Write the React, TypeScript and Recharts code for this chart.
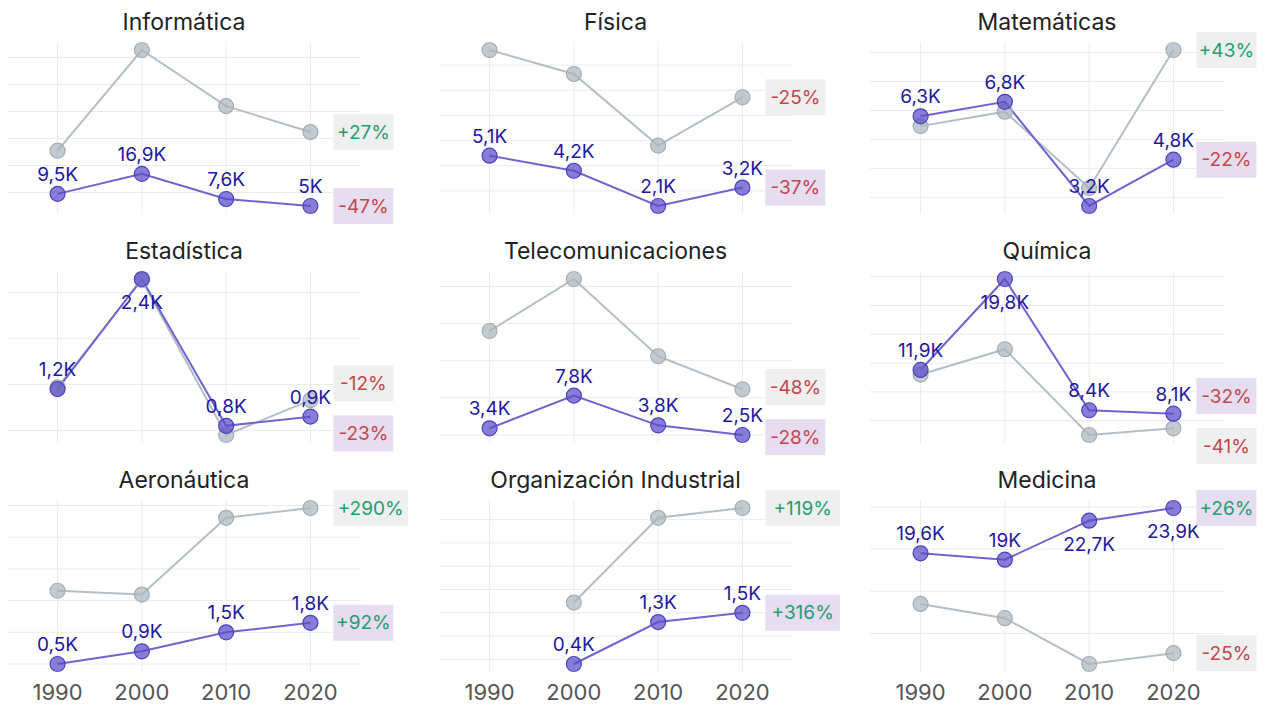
import React from 'react'
import { LineChart, Line, XAxis, YAxis, CartesianGrid, LabelList } from 'recharts'

const titles = [
  'Informática', 'Física', 'Matemáticas',
  'Estadística', 'Telecomunicaciones', 'Química',
  'Aeronáutica', 'Organización Industrial', 'Medicina',
]
const years = [1990, 2000, 2010, 2020]

// purple series, thousands (labelled)
const women: (number | null)[][] = [
  [9.5, 16.9, 7.6, 5.0],
  [5.1, 4.2, 2.1, 3.2],
  [6.3, 6.8, 3.2, 4.8],
  [1.2, 2.4, 0.8, 0.9],
  [3.4, 7.8, 3.8, 2.5],
  [11.9, 19.8, 8.4, 8.1],
  [0.5, 0.9, 1.5, 1.8],
  [null, 0.4, 1.3, 1.5],
  [19.6, 19.0, 22.7, 23.9],
]
// grey series, thousands (read off the picture, not labelled)
const men: (number | null)[][] = [
  [25.5, 62.8, 42.0, 32.4],
  [11.4, 9.97, 5.7, 8.58],
  [5.96, 6.46, 3.82, 8.59],
  [1.22, 2.39, 0.7, 1.08],
  [16.5, 23.5, 13.1, 8.66],
  [11.5, 13.7, 6.25, 6.83],
  [2.81, 2.69, 5.11, 5.42],
  [null, 1.72, 3.54, 3.75],
  [14.8, 13.45, 9.1, 10.13],
]
// change labels as printed in the boxes
const menChange = [27, -25, 43, -12, -48, -41, 290, 119, -25]
const womenChange = [-47, -37, -22, -23, -28, -32, 92, 316, 26]
// spacing of the light grid lines, thousands
const gridSteps = [10, 1.5, 0.5, 0.25, 2.5, 2.5, 0.5, 0.5, 2]

const PLOT_W = 354
const PLOT_H = 171.6
const TOP = 42.2
const LEFT = 7
const COL_X = [0, 431.5, 863]
const ROW_Y = [0, 228.8, 457.6]
const AXIS_H = 34

const GREY_LINE = '#b3bec5'
const GREY_DOT = '#aab5bd'
const PURPLE_LINE = '#7064d0'
const PURPLE_DOT = '#5a4bc8'
const LABEL_BLUE = '#2218a0'
const GREEN = '#1f9e72'
const RED = '#c4464b'

const fmtK = (v: number) => {
  const s = v.toFixed(1).replace('.', ',')
  return (s.endsWith(',0') ? s.slice(0, -2) : s) + 'K'
}
const fmtPct = (v: number) => (v > 0 ? '+' : '') + v + '%'

const gridTicks = (lo: number, hi: number, step: number) => {
  const out: number[] = []
  for (let t = Math.ceil(lo / step - 1e-9) * step; t <= hi + 1e-9; t += step) {
    out.push(+t.toFixed(4))
  }
  return out
}

// push the two end boxes apart when they would overlap
const spread = (a: number, b: number, sep = 50) => {
  if (Math.abs(a - b) >= sep) return [a, b]
  const mid = (a + b) / 2
  return a < b ? [mid - sep / 2, mid + sep / 2] : [mid + sep / 2, mid - sep / 2]
}

const PctBox = ({ x, y, value, fill }: { x: number; y: number; value: number; fill: string }) => {
  const text = fmtPct(value)
  const w = text.length * 14.5 + 2
  return (
    <g>
      <rect x={x} y={y - 18} width={w} height={36} fill={fill} />
      <text x={x + w / 2} y={y} dy="0.35em" textAnchor="middle" fontSize={19} fill={value > 0 ? GREEN : RED}>
        {text}
      </text>
    </g>
  )
}

const Panel = ({ k }: { k: number }) => {
  const row = Math.floor(k / 3)
  const col = k % 3
  const data = years.map((year, i) => ({ year, men: men[k][i], women: women[k][i] }))
  const vals = [...men[k], ...women[k]].filter((v): v is number => v != null)
  const lo = Math.min(...vals)
  const hi = Math.max(...vals)
  const pad = (hi - lo) * 0.05
  const domain: [number, number] = [lo - pad, hi + pad]
  const ppu = PLOT_H / (domain[1] - domain[0])
  const last = years.length - 1
  const gap = ((women[k][last] as number) - (men[k][last] as number)) * ppu

  const bottomRow = row === 2
  const width = col === 2 ? 405 : 420
  const height = bottomRow ? 248 : 245
  const margin = {
    top: TOP,
    left: LEFT,
    right: width - LEFT - PLOT_W,
    bottom: height - TOP - PLOT_H - (bottomRow ? AXIS_H : 0),
  }

  const valueLabel = (props: any) => {
    const { x, y, value } = props
    if (value == null) return null
    const norm = (value - lo) / (hi - lo)
    const below = norm > 0.85
    return (
      <text x={x} y={below ? y + 30 : y - 13} textAnchor="middle" fontSize={19} fill={LABEL_BLUE}>
        {fmtK(value)}
      </text>
    )
  }

  const menBox = (props: any) => {
    const { x, y, index } = props
    if (index !== last) return null
    const [ym] = spread(y, y - gap)
    return <PctBox x={x + 23} y={ym} value={menChange[k]} fill="#efefef" />
  }

  const womenBox = (props: any) => {
    const { x, y, index } = props
    if (index !== last) return null
    const [, yw] = spread(y + gap, y)
    return <PctBox x={x + 23} y={yw} value={womenChange[k]} fill="#e7ddf1" />
  }

  return (
    <div style={{ position: 'absolute', left: COL_X[col], top: ROW_Y[row], width, height }}>
      <div
        style={{
          position: 'absolute', left: LEFT, top: 11, width: PLOT_W, textAlign: 'center',
          fontSize: 23, lineHeight: '23px', color: '#222',
        }}
      >
        {titles[k]}
      </div>
      <LineChart width={width} height={height} data={data} margin={margin}>
        <CartesianGrid stroke="#ebebeb" strokeWidth={1} syncWithTicks />
        <XAxis
          dataKey="year"
          type="number"
          domain={[1984, 2026]}
          ticks={years}
          hide={!bottomRow}
          height={AXIS_H}
          axisLine={false}
          tickLine={false}
          tickMargin={7}
          tick={{ fontSize: 22, fill: '#555' }}
        />
        <YAxis hide type="number" domain={domain} allowDataOverflow ticks={gridTicks(domain[0], domain[1], gridSteps[k])} />
        <Line
          dataKey="men"
          stroke={GREY_LINE}
          strokeWidth={2}
          dot={{ r: 7.5, fill: GREY_DOT, fillOpacity: 0.7, stroke: '#a3aeb6', strokeWidth: 1.2 }}
          activeDot={false}
          isAnimationActive={false}
        >
          <LabelList dataKey="men" content={menBox} />
        </Line>
        <Line
          dataKey="women"
          stroke={PURPLE_LINE}
          strokeWidth={2}
          dot={{ r: 7.5, fill: PURPLE_DOT, fillOpacity: 0.72, stroke: '#4f40c2', strokeWidth: 1.2 }}
          activeDot={false}
          isAnimationActive={false}
        >
          <LabelList dataKey="women" content={valueLabel} />
          <LabelList dataKey="women" content={womenBox} />
        </Line>
      </LineChart>
    </div>
  )
}

export default function App() {
  return (
    <div
      style={{
        position: 'absolute', left: 0, top: 0, width: 1268, height: 706,
        background: '#fff', fontFamily: 'Inter, sans-serif', overflow: 'hidden',
      }}
    >
      {titles.map((_, k) => (
        <Panel key={k} k={k} />
      ))}
    </div>
  )
}
